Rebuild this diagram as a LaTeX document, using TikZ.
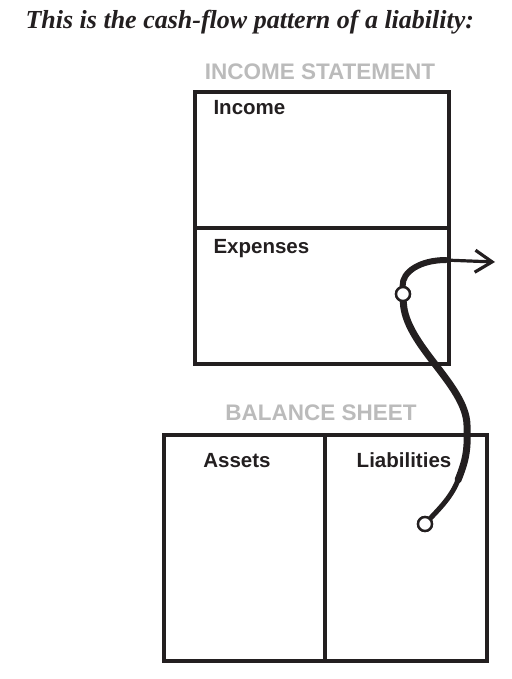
\documentclass[tikz,border=0pt]{standalone}
\usepackage{fontspec}
\setmainfont{Liberation Serif}
\setsansfont{Liberation Sans}
\usetikzlibrary{arrows.meta}
\definecolor{ink}{HTML}{231F20}
\definecolor{headgray}{HTML}{BBBBBB}
\begin{document}
\begin{tikzpicture}
        [x=1pt, y=-1pt,
        box/.style={draw=ink, line width=3.6pt, inner sep=0pt, anchor=north west},
        head/.style={font=\sffamily\bfseries\fontsize{22.5}{22.5}\selectfont, text=headgray, anchor=base},
        item/.style={font=\sffamily\bfseries\fontsize{20.5}{20.5}\selectfont, text=ink, anchor=base},
        dot/.style={circle, draw=ink, fill=white, line width=2.4pt, minimum size=14pt, inner sep=0pt},
        brush/.style={draw=ink, line width=7pt, line cap=round}]
        \useasboundingbox (0,0) rectangle (511,679);
        \node[font=\bfseries\itshape\fontsize{26}{26}\selectfont, text=ink, anchor=base west] (title) at (22,29) {This is the cash-flow pattern of a liability:};

        % income statement
        \node[head] (ishead) at (320,80) {INCOME STATEMENT};
        \node[box, minimum width=254pt, minimum height=136pt] (income) at (193,90) {};
        \node[box, minimum width=254pt, minimum height=136pt] (expenses) at (193,226) {};
        \node[item, anchor=base west] (inclabel) at (210,115) {Income};
        \node[item, anchor=base west] (explabel) at (210,253) {Expenses};

        % balance sheet
        \node[head] (bshead) at (321,420) {BALANCE SHEET};
        \node[box, minimum width=161pt, minimum height=226pt] (assets) at (162,433) {};
        \node[box, minimum width=162pt, minimum height=226pt] (liabilities) at (323,433) {};
        \node[item] (asslabel) at (237,467) {Assets};
        \node[item] (liablabel) at (404,467) {Liabilities};

        % cash flow
        \node[dot] (from) at (425,524) {};
        \node[dot] (via) at (403,294) {};
        \coordinate (out) at (495,262);
        \draw[brush, line width=5pt] (from) .. controls (440,508) and (452,496) .. (458,480);
        \draw[brush] (458,480) .. controls (466,460) and (468,450) .. (467,425)
                .. controls (466,385) and (405,345) .. (via);
        \draw[brush, line width=6pt] (via) .. controls (402,272) and (420,260) .. (446,260);
        \draw[draw=ink, line width=3.2pt, -{Straight Barb[length=17pt, width=22pt]}] (444,260) -- (out);
        \node[dot] at (from) {};
        \node[dot] at (via) {};
\end{tikzpicture}
\end{document}
